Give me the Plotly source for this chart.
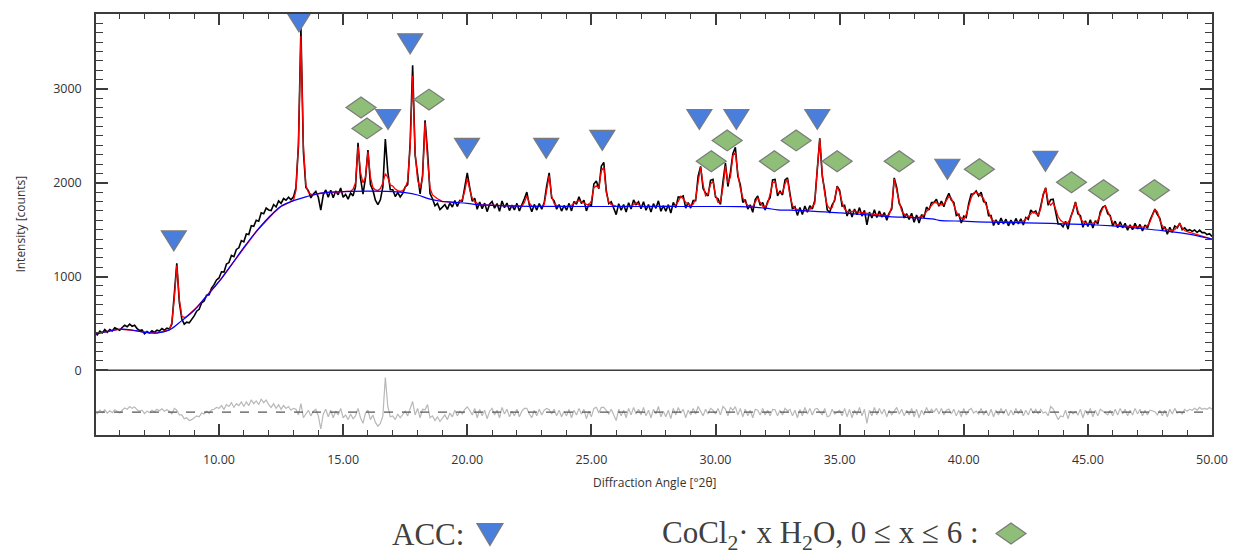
import numpy as np
import plotly.graph_objects as go

# ---------------- data ----------------
two_theta_start = 5.0
two_theta_step = 0.1

# observed intensity, one row per degree (x.0 ... x.9), last value = 50.0
obs_rows = [
    [396, 377, 418, 398, 434, 405, 435, 419, 454, 439],
    [428, 457, 480, 464, 492, 470, 480, 445, 425, 430],
    [390, 414, 397, 421, 404, 428, 419, 446, 427, 449],
    [440, 490, 810, 1140, 730, 550, 492, 514, 506, 538],
    [580, 630, 650, 720, 740, 800, 806, 877, 913, 964],
    [985, 1051, 1047, 1133, 1149, 1225, 1212, 1289, 1306, 1383],
    [1370, 1454, 1448, 1542, 1536, 1600, 1590, 1680, 1670, 1730],
    [1710, 1704, 1768, 1742, 1806, 1780, 1832, 1814, 1846, 1818],
    [1850, 1948, 2396, 3654, 2332, 1950, 1917, 1839, 1881, 1908],
    [1845, 1708, 1871, 1924, 1847, 1920, 1841, 1912, 1873, 1944],
    [1845, 1876, 1826, 1890, 1860, 1960, 2427, 2050, 1880, 2050],
    [2350, 1980, 1919, 1814, 1768, 1818, 1957, 2467, 2117, 1926],
    [1925, 1853, 1896, 1849, 1887, 1955, 1980, 2425, 3253, 2295],
    [2070, 1881, 2082, 2667, 2334, 1885, 1830, 1755, 1780, 1715],
    [1740, 1768, 1716, 1784, 1742, 1810, 1748, 1811, 1804, 1942],
    [2105, 1947, 1804, 1836, 1718, 1795, 1724, 1783, 1692, 1771],
    [1800, 1729, 1778, 1697, 1806, 1735, 1784, 1703, 1762, 1711],
    [1780, 1700, 1760, 1830, 1900, 1765, 1690, 1769, 1709, 1779],
    [1718, 1788, 1968, 2105, 1838, 1808, 1718, 1768, 1698, 1758],
    [1708, 1780, 1700, 1800, 1770, 1850, 1780, 1815, 1700, 1770],
    [1757, 1987, 2018, 1937, 2177, 2217, 1917, 1777, 1797, 1717],
    [1660, 1777, 1707, 1767, 1687, 1787, 1720, 1817, 1767, 1797],
    [1722, 1797, 1707, 1767, 1687, 1777, 1727, 1807, 1697, 1757],
    [1697, 1767, 1677, 1790, 1735, 1850, 1845, 1860, 1730, 1790],
    [1730, 1810, 1810, 2070, 2175, 1940, 1890, 1860, 2027, 2037],
    [1847, 1830, 1770, 2010, 2210, 1960, 2110, 2310, 2379, 2070],
    [1980, 1790, 1820, 1720, 1765, 1685, 1820, 1860, 1760, 1790],
    [1710, 1800, 1840, 2030, 2035, 1860, 1910, 1870, 2030, 2052],
    [1890, 1720, 1745, 1652, 1736, 1662, 1752, 1685, 1755, 1720],
    [1810, 2190, 2474, 2070, 1920, 1710, 1685, 1765, 1810, 1965],
    [1920, 1750, 1760, 1645, 1720, 1635, 1720, 1660, 1735, 1645],
    [1705, 1552, 1688, 1625, 1712, 1630, 1698, 1635, 1682, 1600],
    [1680, 1720, 2052, 1950, 1780, 1730, 1625, 1670, 1610, 1675],
    [1578, 1656, 1570, 1660, 1630, 1740, 1710, 1790, 1790, 1825],
    [1750, 1805, 1745, 1830, 1888, 1815, 1790, 1650, 1665, 1570],
    [1645, 1630, 1780, 1880, 1880, 1912, 1860, 1900, 1800, 1790],
    [1650, 1650, 1545, 1605, 1553, 1623, 1562, 1612, 1541, 1601],
    [1550, 1620, 1562, 1615, 1550, 1630, 1610, 1710, 1680, 1700],
    [1640, 1750, 1870, 1947, 1760, 1820, 1825, 1690, 1560, 1560],
    [1530, 1590, 1505, 1630, 1700, 1796, 1670, 1650, 1525, 1595],
    [1535, 1605, 1518, 1595, 1560, 1690, 1740, 1754, 1670, 1650],
    [1540, 1590, 1520, 1585, 1520, 1567, 1495, 1552, 1500, 1567],
    [1508, 1556, 1486, 1550, 1515, 1600, 1660, 1719, 1660, 1620],
    [1500, 1530, 1450, 1525, 1472, 1540, 1520, 1570, 1500, 1520],
    [1488, 1500, 1482, 1496, 1470, 1495, 1468, 1468, 1448, 1458],
    [1428],
]

# calculated (fitted) intensity, same grid
calc_rows = [
    [386, 392, 398, 403, 409, 415, 420, 424, 429, 434],
    [438, 437, 435, 434, 432, 430, 425, 420, 415, 410],
    [405, 404, 402, 401, 399, 398, 404, 411, 417, 424],
    [430, 510, 770, 1120, 760, 580, 562, 574, 596, 618],
    [640, 670, 700, 730, 760, 790, 821, 852, 883, 914],
    [945, 981, 1017, 1053, 1089, 1125, 1162, 1199, 1236, 1273],
    [1310, 1344, 1378, 1412, 1446, 1480, 1510, 1540, 1570, 1600],
    [1630, 1654, 1678, 1702, 1726, 1750, 1762, 1774, 1786, 1798],
    [1810, 1918, 2426, 3564, 2392, 1970, 1897, 1879, 1871, 1878],
    [1885, 1888, 1891, 1894, 1897, 1900, 1901, 1902, 1903, 1904],
    [1905, 1906, 1906, 1910, 1930, 2000, 2387, 2110, 2000, 2060],
    [2330, 2060, 1949, 1924, 1918, 1938, 1997, 2097, 2057, 1976],
    [1965, 1933, 1916, 1909, 1917, 1945, 2020, 2385, 3140, 2325],
    [2030, 1941, 2052, 2643, 2254, 1945, 1870, 1845, 1830, 1815],
    [1800, 1798, 1796, 1794, 1792, 1790, 1788, 1801, 1824, 1912],
    [2050, 1927, 1834, 1796, 1778, 1765, 1764, 1763, 1762, 1761],
    [1760, 1759, 1758, 1757, 1756, 1755, 1754, 1753, 1752, 1751],
    [1750, 1750, 1750, 1790, 1860, 1785, 1750, 1749, 1749, 1749],
    [1748, 1768, 1928, 2078, 1858, 1778, 1758, 1748, 1748, 1748],
    [1748, 1750, 1760, 1780, 1800, 1810, 1800, 1785, 1770, 1760],
    [1807, 1947, 1967, 1947, 2127, 2167, 1897, 1797, 1767, 1757],
    [1750, 1747, 1747, 1747, 1747, 1747, 1750, 1767, 1787, 1767],
    [1752, 1747, 1747, 1747, 1747, 1747, 1747, 1747, 1747, 1747],
    [1747, 1747, 1747, 1750, 1765, 1800, 1855, 1830, 1790, 1770],
    [1760, 1770, 1830, 2010, 2167, 1980, 1860, 1880, 1987, 2017],
    [1867, 1790, 1800, 1950, 2177, 2000, 2060, 2290, 2320, 2100],
    [1940, 1840, 1790, 1760, 1745, 1745, 1790, 1840, 1790, 1750],
    [1740, 1780, 1880, 2000, 2010, 1900, 1890, 1900, 1990, 2040],
    [1860, 1760, 1725, 1712, 1706, 1702, 1702, 1705, 1715, 1750],
    [1780, 2150, 2470, 2100, 1880, 1760, 1725, 1735, 1830, 1960],
    [1900, 1790, 1720, 1695, 1690, 1695, 1700, 1690, 1685, 1685],
    [1675, 1672, 1668, 1665, 1662, 1660, 1658, 1655, 1652, 1650],
    [1660, 1750, 2040, 1900, 1800, 1700, 1665, 1650, 1640, 1635],
    [1628, 1626, 1630, 1640, 1660, 1690, 1720, 1760, 1790, 1785],
    [1770, 1765, 1775, 1810, 1855, 1835, 1760, 1690, 1645, 1620],
    [1605, 1660, 1760, 1840, 1890, 1900, 1880, 1860, 1830, 1770],
    [1690, 1620, 1595, 1585, 1583, 1583, 1582, 1582, 1581, 1581],
    [1580, 1580, 1582, 1585, 1590, 1610, 1640, 1670, 1690, 1670],
    [1660, 1720, 1880, 1945, 1800, 1760, 1790, 1720, 1640, 1600],
    [1580, 1570, 1575, 1620, 1720, 1790, 1700, 1620, 1585, 1575],
    [1565, 1565, 1568, 1575, 1600, 1660, 1730, 1755, 1700, 1630],
    [1580, 1560, 1550, 1545, 1540, 1537, 1535, 1532, 1530, 1527],
    [1528, 1526, 1526, 1530, 1545, 1580, 1650, 1715, 1690, 1600],
    [1540, 1510, 1500, 1495, 1492, 1500, 1530, 1565, 1520, 1490],
    [1478, 1470, 1462, 1456, 1450, 1445, 1438, 1428, 1418, 1408],
    [1398],
]

# background
bg_x = [5.0, 5.5, 6.0, 6.5, 7.0, 7.5, 8.0, 8.5, 9.0, 9.5,
        10.0, 10.5, 11.0, 11.5, 12.0, 12.5, 13.0, 13.5, 14.0, 14.5,
        15.0, 16.0, 17.0, 17.5, 18.0, 18.5, 19.0, 19.5, 20.0, 20.5,
        21.0, 22.0, 23.0, 25.0, 28.0, 30.0, 31.0, 32.0, 32.5, 33.0,
        34.0, 35.0, 36.0, 37.0, 38.0, 38.8, 39.0, 40.0, 41.0, 42.0,
        43.0, 44.0, 45.0, 46.0, 47.0, 48.0, 49.0, 50.0]
bg_y = [386, 415, 438, 430, 405, 398, 430, 530, 640, 790,
        945, 1125, 1310, 1480, 1630, 1750, 1810, 1850, 1885, 1900,
        1905, 1910, 1905, 1895, 1870, 1825, 1800, 1790, 1780, 1765,
        1760, 1750, 1748, 1747, 1747, 1747, 1745, 1730, 1712, 1708,
        1695, 1680, 1660, 1640, 1628, 1612, 1600, 1590, 1580, 1575,
        1570, 1562, 1555, 1540, 1515, 1490, 1455, 1400]

# phase markers (label positions in data units)
acc_x = [8.18, 13.22, 16.81, 17.70, 19.99, 23.18, 25.44, 29.35, 30.84, 34.10, 39.34, 43.29]
acc_y = [1380, 3715, 2675, 3482, 2367, 2367, 2452, 2675, 2675, 2675, 2144, 2229]
cocl_x = [15.72, 15.96, 18.46, 29.83, 30.47, 32.37, 33.25, 34.90, 37.40, 40.63, 44.34, 45.63, 47.68]
cocl_y = [2803, 2580, 2887, 2229, 2452, 2229, 2452, 2229, 2229, 2144, 2006, 1921, 1921]

y_major = [0, 1000, 2000, 3000]
x_title = "Diffraction Angle [°2θ]"
y_title = "Intensity [counts]"
legend_acc = "ACC:"
legend_cocl = "CoCl<sub>2</sub>· x H<sub>2</sub>O, 0 ≤ x ≤ 6 :"

# ---------------- build ----------------
obs = np.array([v for r in obs_rows for v in r], dtype=float)
calc = np.array([v for r in calc_rows for v in r], dtype=float)
assert len(obs) == 451 and len(calc) == 451
two_theta = np.round(two_theta_start + two_theta_step * np.arange(len(obs)), 2)

RES_OFFSET = -446
resid = obs - calc + RES_OFFSET

AX = "#3c3c3c"
TXT = "#333333"
FONT = "Open Sans"

fig = go.Figure()
fig.add_trace(go.Scatter(x=two_theta, y=resid, mode="lines",
                         line=dict(color="#b8b8b8", width=1.2), showlegend=False))
fig.add_trace(go.Scatter(x=two_theta, y=obs, mode="lines",
                         line=dict(color="black", width=1.6), showlegend=False))
fig.add_trace(go.Scatter(x=two_theta, y=calc, mode="lines",
                         line=dict(color="#ff0000", width=1.3), showlegend=False))
fig.add_trace(go.Scatter(x=bg_x, y=bg_y, mode="lines", line_shape="spline",
                         line=dict(color="#0000ff", width=1.2), showlegend=False))

shapes = []
# zero line separating main and difference panel
shapes.append(dict(type="line", xref="paper", yref="y", x0=0, x1=1, y0=0, y1=0,
                   line=dict(color=AX, width=1.5)))
# difference zero line (dashed)
shapes.append(dict(type="line", xref="paper", yref="y", x0=0, x1=1,
                   y0=RES_OFFSET, y1=RES_OFFSET,
                   line=dict(color="#555555", width=1.2, dash="dash")))

TRI_W, TRI_H = 25, 20
DIA_W, DIA_H = 30, 21
tri_path = f"M {-TRI_W/2},{TRI_H/2} L {TRI_W/2},{TRI_H/2} L 0,{-TRI_H/2} Z"
dia_path = f"M {-DIA_W/2},0 L 0,{DIA_H/2} L {DIA_W/2},0 L 0,{-DIA_H/2} Z"
BLUE = "#4a7edc"
GREEN = "#8fbe78"
OUTL = "#7a7a7a"

for x, y in zip(acc_x, acc_y):
    shapes.append(dict(type="path", xref="x", yref="y", xsizemode="pixel", ysizemode="pixel",
                       xanchor=x, yanchor=y, path=tri_path, fillcolor=BLUE,
                       line=dict(color=OUTL, width=1.2), layer="above"))
for x, y in zip(cocl_x, cocl_y):
    shapes.append(dict(type="path", xref="x", yref="y", xsizemode="pixel", ysizemode="pixel",
                       xanchor=x, yanchor=y, path=dia_path, fillcolor=GREEN,
                       line=dict(color=OUTL, width=1.2), layer="above"))

# legend symbols
shapes.append(dict(type="path", xref="paper", yref="paper", xsizemode="pixel", ysizemode="pixel",
                   xanchor=0.353, yanchor=-0.2364,
                   path="M -13,11 L 13,11 L 0,-11 Z", fillcolor=BLUE,
                   line=dict(color=OUTL, width=1.2)))
shapes.append(dict(type="path", xref="paper", yref="paper", xsizemode="pixel", ysizemode="pixel",
                   xanchor=0.8199, yanchor=-0.234,
                   path=dia_path, fillcolor=GREEN,
                   line=dict(color=OUTL, width=1.2)))

annotations = [
    dict(text=y_title, xref="paper", yref="paper", x=-0.068, y=0.5, textangle=-90,
         showarrow=False, font=dict(family=FONT, size=12, color=TXT), xanchor="center", yanchor="middle"),
    dict(text=x_title, xref="paper", yref="paper", x=0.5, y=-0.1135,
         showarrow=False, font=dict(family=FONT, size=12, color=TXT), xanchor="center", yanchor="middle"),
    dict(text=legend_acc, xref="paper", yref="paper", x=(390 - 96) / 1116, y=-0.2364,
         showarrow=False, font=dict(family="Liberation Serif", size=31, color="#404040"),
         xanchor="left", yanchor="middle"),
    dict(text=legend_cocl, xref="paper", yref="paper", x=(660 - 96) / 1116, y=-0.2364,
         showarrow=False, font=dict(family="Liberation Serif", size=31, color="#404040"),
         xanchor="left", yanchor="middle"),
]

fig.update_layout(
    width=1240, height=558,
    margin=dict(l=96, r=28, t=12, b=123),
    paper_bgcolor="white", plot_bgcolor="white",
    shapes=shapes, annotations=annotations,
    showlegend=False,
)
fig.update_xaxes(
    range=[5.045, 50], showgrid=False, zeroline=False,
    showline=True, linecolor=AX, linewidth=1.5, mirror="ticks",
    ticks="inside", ticklen=11, tickwidth=1.5, tickcolor=AX,
    tick0=0, dtick=5, tickformat=".2f", ticklabelstandoff=12,
    tickfont=dict(family=FONT, size=12.5, color=TXT),
    minor=dict(dtick=1, ticks="inside", ticklen=5, tickwidth=1.2, tickcolor=AX),
)
fig.update_yaxes(
    range=[-690, 3800], showgrid=False, zeroline=False,
    showline=True, linecolor=AX, linewidth=1.5, mirror="ticks",
    ticks="inside", ticklen=12, tickwidth=1.5, tickcolor=AX,
    tickmode="array", tickvals=y_major, ticklabelstandoff=10,
    tickfont=dict(family=FONT, size=12.5, color=TXT),
    minor=dict(tickmode="array", tickvals=[v for v in range(100, 3800, 100) if v not in y_major],
               ticks="inside", ticklen=7, tickwidth=1.2, tickcolor=AX),
)

fig.write_html("out.html")
